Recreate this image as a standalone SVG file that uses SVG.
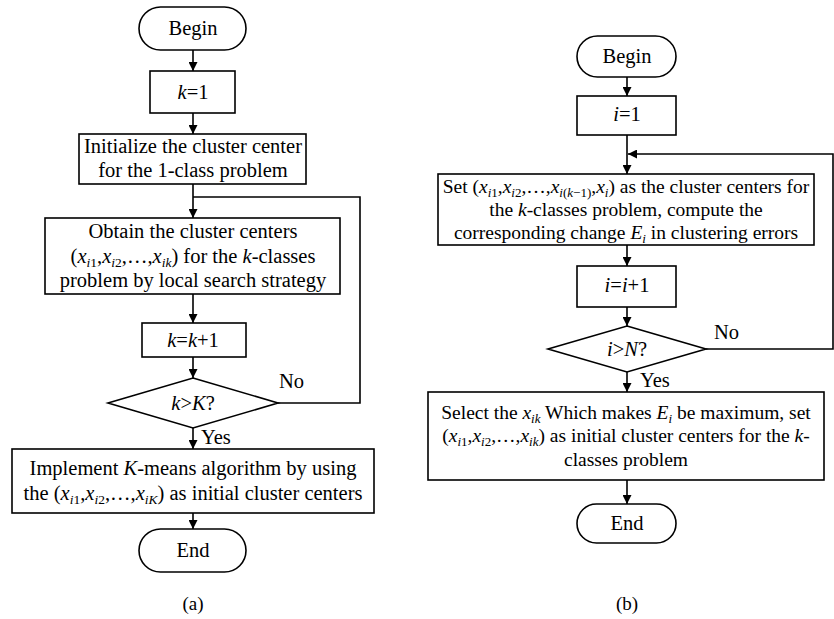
<svg xmlns="http://www.w3.org/2000/svg" width="834" height="619" viewBox="0 0 834 619" font-family="'Liberation Serif', 'Times New Roman', Times, serif" font-size="20.5">
<style>
.shape{fill:#fff;stroke:#000;stroke-width:1.6}
.line{fill:none;stroke:#000;stroke-width:1.6}
text{fill:#000}
.c{text-anchor:middle}
.i{font-style:italic}
.s{font-size:13.5px}
.b{font-size:19.5px}
.b .s{font-size:13px}
.cap{font-size:19px}
</style>
<defs>
<marker id="arr" viewBox="0 0 10 10" refX="10" refY="5" markerWidth="9" markerHeight="9" markerUnits="userSpaceOnUse" orient="auto">
<path d="M0,0 L10,5 L0,10 z" fill="#000"/>
</marker>
</defs>
<rect width="834" height="619" fill="#fff"/>
<g id="connectors">
<line class="line" x1="193" y1="50" x2="193" y2="71" marker-end="url(#arr)"/>
<line class="line" x1="193" y1="113" x2="193" y2="134" marker-end="url(#arr)"/>
<line class="line" x1="193" y1="184" x2="193" y2="218" marker-end="url(#arr)"/>
<polyline class="line" points="278,403 360,403 360,197 193,197"/>
<line class="line" x1="193" y1="294" x2="193" y2="323" marker-end="url(#arr)"/>
<line class="line" x1="193" y1="357" x2="193" y2="378" marker-end="url(#arr)"/>
<line class="line" x1="193" y1="428" x2="193" y2="449" marker-end="url(#arr)"/>
<line class="line" x1="193" y1="513" x2="193" y2="529" marker-end="url(#arr)"/>
<line class="line" x1="627" y1="77" x2="627" y2="96" marker-end="url(#arr)"/>
<line class="line" x1="627" y1="135" x2="627" y2="174" marker-end="url(#arr)"/>
<polyline class="line" points="706,349 833,349 833,154 628,154" marker-end="url(#arr)"/>
<line class="line" x1="627" y1="245" x2="627" y2="266" marker-end="url(#arr)"/>
<line class="line" x1="627" y1="307" x2="627" y2="326" marker-end="url(#arr)"/>
<line class="line" x1="627" y1="372" x2="627" y2="392" marker-end="url(#arr)"/>
<line class="line" x1="627" y1="480" x2="627" y2="504" marker-end="url(#arr)"/>
<text x="279" y="388">No</text>
<text x="201" y="444">Yes</text>
<text x="714" y="339">No</text>
<text x="640" y="387">Yes</text>
</g>
<g id="a_begin">
<rect class="shape" x="139" y="7" width="107" height="43" rx="21.5"/>
<text class="c" x="193" y="35">Begin</text>
</g>
<g id="a_k1">
<rect class="shape" x="150" y="71" width="85" height="42"/>
<text class="c" x="193" y="99"><tspan class="i">k</tspan>=1</text>
</g>
<g id="a_init">
<rect class="shape" x="79" y="134" width="227" height="50"/>
<text class="c" x="193" y="152.5">Initialize the cluster center</text>
<text class="c" x="193" y="176.5">for the 1-class problem</text>
</g>
<g id="a_obtain">
<rect class="shape" x="45" y="218" width="295" height="76"/>
<text class="c" x="193" y="238">Obtain the cluster centers</text>
<text class="c" x="193" y="262.5">(<tspan class="i">x</tspan><tspan class="s" dy="4"><tspan class="i">i</tspan>1</tspan><tspan dy="-4">,</tspan><tspan class="i">x</tspan><tspan class="s" dy="4"><tspan class="i">i</tspan>2</tspan><tspan dy="-4">,…,</tspan><tspan class="i">x</tspan><tspan class="s i" dy="4">ik</tspan><tspan dy="-4">) for the </tspan><tspan class="i">k</tspan>-classes</text>
<text class="c" x="193" y="287">problem by local search strategy</text>
</g>
<g id="a_kk1">
<rect class="shape" x="142" y="323" width="104" height="34"/>
<text class="c" x="193" y="346.5"><tspan class="i">k</tspan>=<tspan class="i">k</tspan>+1</text>
</g>
<g id="a_cond">
<polygon class="shape" points="193,378 278,403 193,428 108,403"/>
<text class="c" x="193" y="409.5"><tspan class="i">k</tspan>&gt;<tspan class="i">K</tspan>?</text>
</g>
<g id="a_impl">
<rect class="shape" x="12" y="449" width="362" height="64"/>
<text class="c" x="193" y="475">Implement <tspan class="i">K</tspan>-means algorithm by using</text>
<text class="c" x="193" y="499.5">the (<tspan class="i">x</tspan><tspan class="s" dy="4"><tspan class="i">i</tspan>1</tspan><tspan dy="-4">,</tspan><tspan class="i">x</tspan><tspan class="s" dy="4"><tspan class="i">i</tspan>2</tspan><tspan dy="-4">,…,</tspan><tspan class="i">x</tspan><tspan class="s i" dy="4">iK</tspan><tspan dy="-4">) as initial cluster centers</tspan></text>
</g>
<g id="a_end">
<rect class="shape" x="139" y="529" width="107" height="43" rx="21.5"/>
<text class="c" x="193" y="557">End</text>
</g>
<text class="c cap" x="193" y="610">(a)</text>
<g id="b_begin">
<rect class="shape" x="577" y="36" width="99" height="41" rx="20.5"/>
<text class="c" x="627" y="62.5">Begin</text>
</g>
<g id="b_i1">
<rect class="shape" x="577" y="96" width="99" height="39"/>
<text class="c" x="627" y="121"><tspan class="i">i</tspan>=1</text>
</g>
<g id="b_set" class="b">
<rect class="shape" x="438" y="174" width="376" height="71"/>
<text class="c" x="626" y="193">Set (<tspan class="i">x</tspan><tspan class="s" dy="4"><tspan class="i">i</tspan>1</tspan><tspan dy="-4">,</tspan><tspan class="i">x</tspan><tspan class="s" dy="4"><tspan class="i">i</tspan>2</tspan><tspan dy="-4">,…,</tspan><tspan class="i">x</tspan><tspan class="s" dy="4"><tspan class="i">i</tspan>(<tspan class="i">k</tspan>−1)</tspan><tspan dy="-4">,</tspan><tspan class="i">x</tspan><tspan class="s i" dy="4">i</tspan><tspan dy="-4">) as the cluster centers for</tspan></text>
<text class="c" x="626" y="216">the <tspan class="i">k</tspan>-classes problem, compute the</text>
<text class="c" x="626" y="239">corresponding change <tspan class="i">E</tspan><tspan class="s i" dy="4">i</tspan><tspan dy="-4"> in clustering errors</tspan></text>
</g>
<g id="b_ii1">
<rect class="shape" x="577" y="266" width="99" height="41"/>
<text class="c" x="627" y="292"><tspan class="i">i</tspan>=<tspan class="i">i</tspan>+1</text>
</g>
<g id="b_cond">
<polygon class="shape" points="627,326 706,349 627,372 548,349"/>
<text class="c" x="627" y="355.5"><tspan class="i">i</tspan>&gt;<tspan class="i">N</tspan>?</text>
</g>
<g id="b_select" class="b">
<rect class="shape" x="428" y="392" width="396" height="88"/>
<text class="c" x="626" y="418.5">Select the <tspan class="i">x</tspan><tspan class="s i" dy="4">ik</tspan><tspan dy="-4"> Which makes </tspan><tspan class="i">E</tspan><tspan class="s i" dy="4">i</tspan><tspan dy="-4"> be maximum, set</tspan></text>
<text class="c" x="626" y="442">(<tspan class="i">x</tspan><tspan class="s" dy="4"><tspan class="i">i</tspan>1</tspan><tspan dy="-4">,</tspan><tspan class="i">x</tspan><tspan class="s" dy="4"><tspan class="i">i</tspan>2</tspan><tspan dy="-4">,…,</tspan><tspan class="i">x</tspan><tspan class="s i" dy="4">ik</tspan><tspan dy="-4">) as initial cluster centers for the </tspan><tspan class="i">k</tspan>-</text>
<text class="c" x="626" y="465.5">classes problem</text>
</g>
<g id="b_end">
<rect class="shape" x="577" y="504" width="99" height="39" rx="19.5"/>
<text class="c" x="627" y="530">End</text>
</g>
<text class="c cap" x="627" y="610">(b)</text>
</svg>
